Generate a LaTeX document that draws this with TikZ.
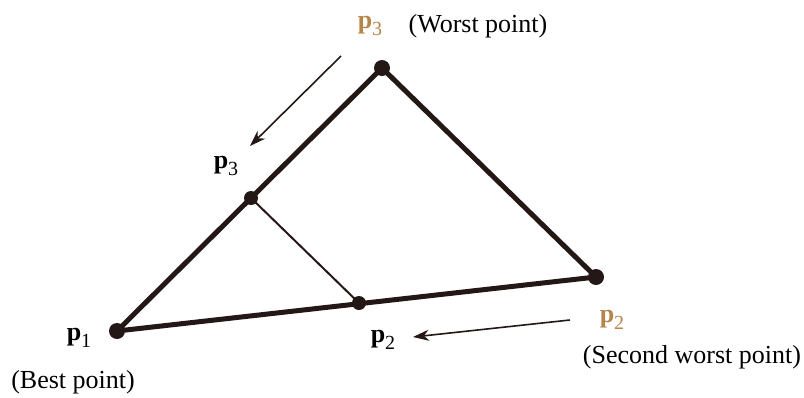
\documentclass[tikz,border=0pt]{standalone}
\usepackage{fontspec}
\setmainfont{Liberation Serif}
\usetikzlibrary{arrows.meta}
\definecolor{edgeink}{HTML}{231815}
\definecolor{worstcol}{HTML}{B5854B}
\newcommand{\ptlabel}[1]{\textbf{p}\raisebox{-0.28em}{\fontsize{20}{22}\selectfont #1}}

\begin{document}
\begin{tikzpicture}[x=1pt,y=-1pt,
  vtx/.style={circle,fill=edgeink,inner sep=0pt,minimum size=16pt},
  thickedge/.style={edgeink,line width=5pt},
  thinedge/.style={edgeink,line width=2pt},
  movearrow/.style={edgeink,line width=1.6pt,-{Stealth[length=16pt,width=11pt,inset=5pt]}},
  lbl/.style={font=\fontsize{26}{30}\selectfont,inner sep=0pt}]
\useasboundingbox (0,0) rectangle (804,397);
% vertices of the simplex
\node[vtx] (p1) at (117,331) {};
\node[vtx] (p2) at (596,277) {};
\node[vtx] (p3) at (382,68) {};
% shrunk points
\node[vtx,minimum size=14pt] (q3) at (251,198) {};
\node[vtx,minimum size=14pt] (q2) at (359,303) {};
% edges
\draw[thickedge] (p1.center) -- (p3.center) -- (p2.center) -- cycle;
\draw[thinedge] (q3.center) -- (q2.center);
% arrows
\coordinate (a1) at (341,56);
\coordinate (b1) at (250,146);
\coordinate (a2) at (570,320);
\coordinate (b2) at (413,337);
\draw[movearrow] (a1) -- (b1);
\draw[movearrow] (a2) -- (b2);
% labels
\node[lbl,text=worstcol] (l3) at (370,26) {\ptlabel{3}};
\node[lbl] (w3) at (478,26) {(Worst point)};
\node[lbl] (m3) at (226,166) {\ptlabel{3}};
\node[lbl] (l1) at (79,338) {\ptlabel{1}};
\node[lbl] (b) at (73,382) {(Best point)};
\node[lbl] (m2) at (383,340) {\ptlabel{2}};
\node[lbl,text=worstcol] (l2) at (612,320) {\ptlabel{2}};
\node[lbl] (s2) at (692,357) {(Second worst point)};
\end{tikzpicture}
\end{document}
